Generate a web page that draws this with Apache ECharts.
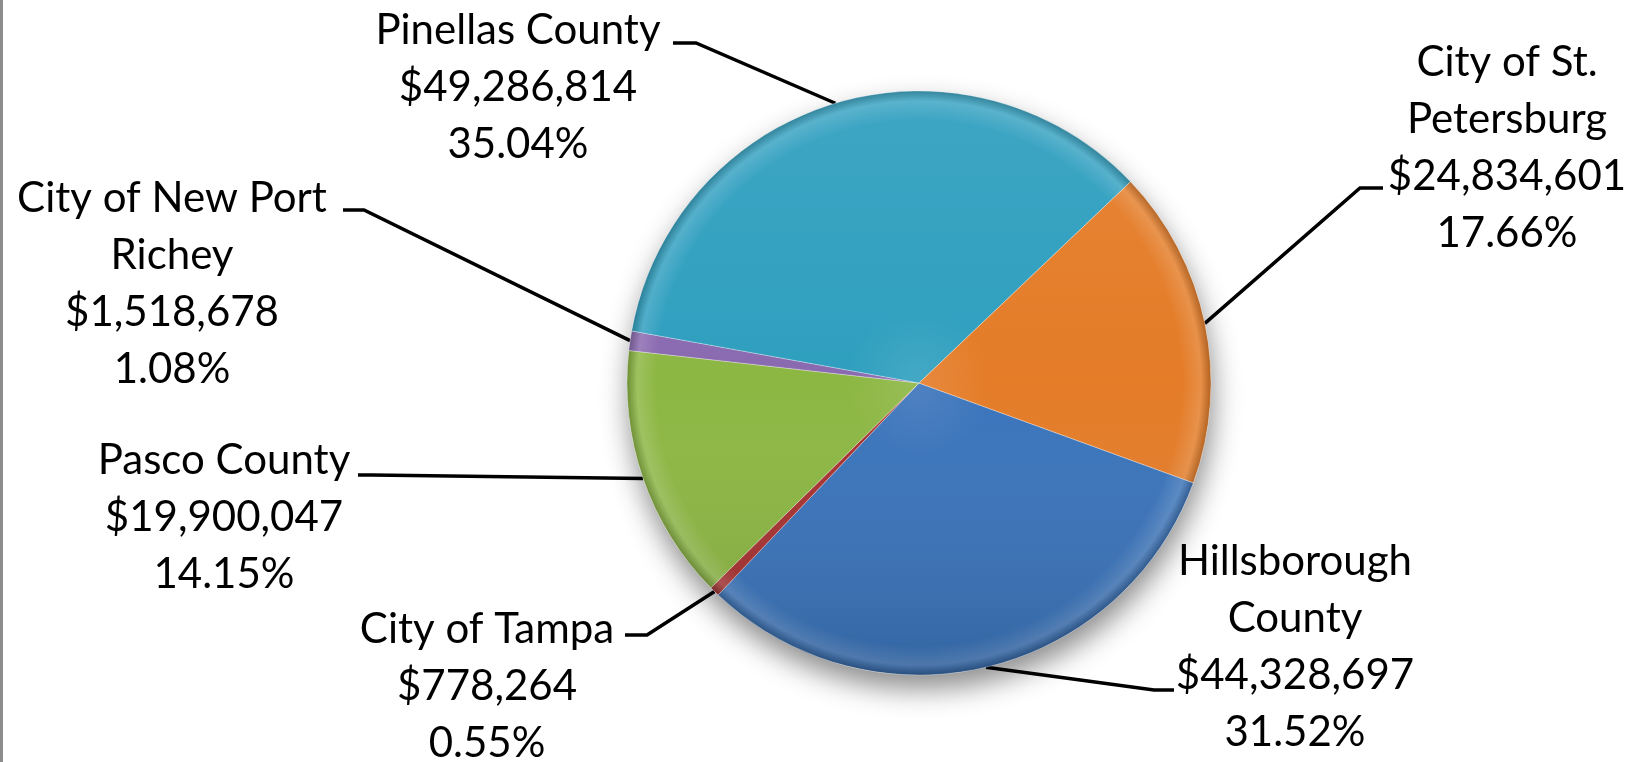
<!DOCTYPE html>
<html><head><meta charset="utf-8">
<script src="https://cdn.jsdelivr.net/npm/echarts@6/dist/echarts.min.js"></script>
<style>html,body{margin:0;padding:0;background:#fff}#c{width:1634px;height:762px}</style>
</head><body><div id="c"></div>
<script>
// ---- data ----
const categories = ['Hillsborough\nCounty', 'City of Tampa', 'Pasco County', 'City of New Port\nRichey', 'Pinellas County', 'City of St.\nPetersburg'];
const values = [44328697, 778264, 19900047, 1518678, 49286814, 24834601];
const colors = ['#3a74bb', '#a83232', '#8cb743', '#8a6ab0', '#2f9fbf', '#e47c28'];

// ---- layout ----
const CX = 919, CY = 383, R = 292, START = -20;
const labelBoxes = [
  { x: 1295, y: 647, elbow: [1154, 690], end: [1174, 690] },
  { x: 487, y: 686, elbow: [647, 635], end: [625, 635] },
  { x: 224, y: 517, elbow: [372, 475], end: [358, 475] },
  { x: 172, y: 284, elbow: [364, 210], end: [343, 210] },
  { x: 518, y: 87, elbow: [696, 43], end: [673, 43] },
  { x: 1507, y: 148, elbow: [1360, 188], end: [1383, 188] }
];

function shade(hex, f) {
  const n = parseInt(hex.slice(1), 16);
  let r = n >> 16, g = (n >> 8) & 255, b = n & 255;
  if (f > 0) { r += (255 - r) * f; g += (255 - g) * f; b += (255 - b) * f; }
  else { r *= (1 + f); g *= (1 + f); b *= (1 + f); }
  return 'rgb(' + Math.round(r) + ',' + Math.round(g) + ',' + Math.round(b) + ')';
}

const total = values.reduce((a, b) => a + b, 0);
const midAngles = [];
let cum = 0;
values.forEach(v => { midAngles.push((START - (cum + v / 2) / total * 360) * Math.PI / 180); cum += v; });

const data = categories.map((name, i) => ({
  name: name,
  value: values[i],
  itemStyle: {
    color: {
      type: 'radial', x: CX, y: CY, r: R, global: true,
      colorStops: [
        { offset: 0, color: shade(colors[i], 0.1) },
        { offset: 0.25, color: colors[i] },
        { offset: 0.9, color: colors[i] },
        { offset: 0.965, color: shade(colors[i], 0.15) },
        { offset: 1, color: shade(colors[i], -0.22) }
      ]
    }
  }
}));

const chart = echarts.init(document.getElementById('c'), null, { renderer: 'canvas' });
chart.setOption({
  backgroundColor: '#ffffff',
  animation: false,
  graphic: [{ type: 'rect', shape: { x: 0, y: 0, width: 3, height: 762 }, style: { fill: '#8c8c8c' }, z: 100 }],
  series: [
    {
      type: 'pie', center: [CX, CY], radius: R, silent: true, z: 1,
      label: { show: false }, labelLine: { show: false },
      itemStyle: { color: '#ffffff', shadowBlur: 28, shadowOffsetY: 14, shadowOffsetX: 2, shadowColor: 'rgba(0,0,0,0.45)' },
      data: [{ value: 1 }]
    },
    {
      type: 'pie', center: [CX, CY], radius: R, startAngle: START, clockwise: true, z: 2,
      avoidLabelOverlap: false,
      itemStyle: { borderColor: 'rgba(255,255,255,0.3)', borderWidth: 1 },
      label: {
        show: true,
        fontFamily: 'Lato, "Open Sans", sans-serif',
        fontSize: 42,
        lineHeight: 57,
        color: '#000',
        align: 'center',
        formatter: p => p.name + '\n$' + p.value.toLocaleString('en-US') + '\n' + p.percent.toFixed(2) + '%'
      },
      labelLine: { show: true, lineStyle: { color: '#000', width: 3.5 } },
      labelLayout: function (params) {
        const i = params.dataIndex;
        const b = labelBoxes[i];
        const a = midAngles[i];
        const edge = [CX + R * Math.cos(a), CY - R * Math.sin(a)];
        return {
          x: b.x, y: b.y, align: 'center', verticalAlign: 'middle',
          labelLinePoints: [edge, b.elbow, b.end]
        };
      },
      data: data
    },
    {
      type: 'pie', center: [CX, CY], radius: R, silent: true, z: 3,
      label: { show: false }, labelLine: { show: false },
      itemStyle: {
        color: {
          type: 'linear', x: 0, y: 0, x2: 0, y2: 1,
          colorStops: [
            { offset: 0, color: 'rgba(255,255,255,0.07)' },
            { offset: 0.5, color: 'rgba(255,255,255,0)' },
            { offset: 1, color: 'rgba(0,0,0,0.14)' }
          ]
        }
      },
      data: [{ value: 1 }]
    }
  ]
});
</script>
</body></html>
